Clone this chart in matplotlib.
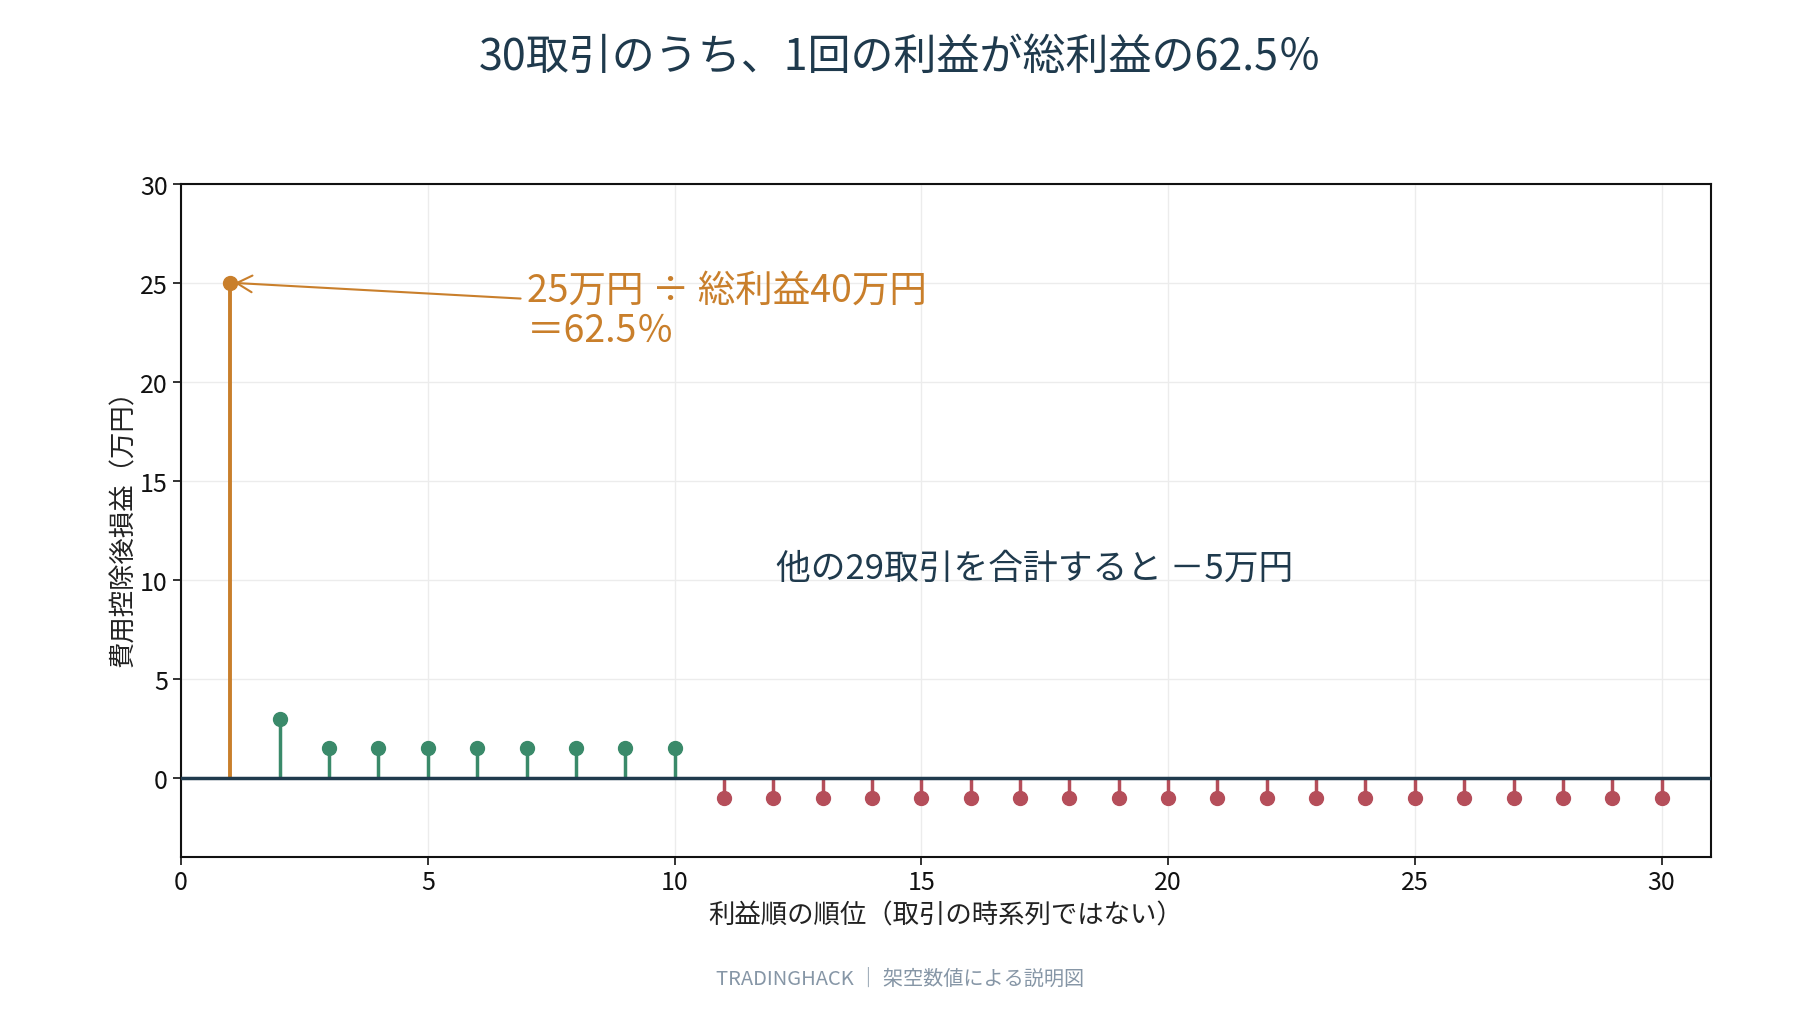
import matplotlib
matplotlib.use("Agg")
import matplotlib.pyplot as plt
import numpy as np

plt.rcParams['font.family'] = ['Noto Sans CJK JP', 'DejaVu Sans']

# ---- data ----
ranks = list(range(1, 31))
pnl = [25, 3] + [1.5] * 8 + [-1] * 20
xticks = [0, 5, 10, 15, 20, 25, 30]
yticks = [0, 5, 10, 15, 20, 25, 30]

title = "30取引のうち、1回の利益が総利益の62.5％"
ylabel = "費用控除後損益（万円）"
xlabel = "利益順の順位（取引の時系列ではない）"
annot_text = "25万円 ÷ 総利益40万円\n＝62.5％"
mid_text = "他の29取引を合計すると －5万円"
footer = "TRADINGHACK ｜ 架空数値による説明図"

ORANGE = "#C97F2B"
GREEN = "#3A8A6A"
RED = "#B54E5A"
NAVY = "#1F3A4D"

fig = plt.figure(figsize=(18, 10.2), dpi=100)
ax = fig.add_axes([0.1006, 0.1584, 0.8499, 0.6606])

r = np.array(ranks)
v = np.array(pnl)
pos = (v > 0) & (r > 1)
neg = v < 0

ax.vlines(r[:1], 0, v[:1], color=ORANGE, lw=2.8, zorder=3)
ax.plot(r[:1], v[:1], 'o', color=ORANGE, ms=10, zorder=4)
ax.vlines(r[pos], 0, v[pos], color=GREEN, lw=2.5, zorder=3)
ax.plot(r[pos], v[pos], 'o', color=GREEN, ms=10, zorder=4)
ax.vlines(r[neg], 0, v[neg], color=RED, lw=2.5, zorder=3)
ax.plot(r[neg], v[neg], 'o', color=RED, ms=10, zorder=4)

ax.axhline(0, color=NAVY, lw=2.5, zorder=5)

ax.set_xlim(0, 31)
ax.set_ylim(-4, 30)
ax.set_xticks(xticks)
ax.set_yticks(yticks)
ax.grid(True, color="#ECECEC", lw=1, zorder=0)
ax.set_axisbelow(True)
for s in ax.spines.values():
    s.set_color("#111111")
    s.set_linewidth(1.5)
ax.tick_params(axis='both', labelsize=18, colors="#111111", length=6, width=1.2)
ax.tick_params(axis='x', pad=2)

ax.set_xlabel(xlabel, fontsize=19, color="#222222", labelpad=5)
ax.set_ylabel(ylabel, fontsize=19, color="#222222", labelpad=2)

ax.text(7.0, 23.6, annot_text, fontsize=27, color=ORANGE, ha='left', va='center',
        linespacing=1.05)
ax.annotate("", xy=(r[0], v[0]), xytext=(6.88, 24.2),
            arrowprops=dict(arrowstyle="->,head_length=0.55,head_width=0.3",
                            color=ORANGE, lw=1.5, shrinkA=0, shrinkB=3,
                            mutation_scale=20))

ax.text(12.05, 10.6, mid_text, fontsize=25, color=NAVY, ha='left', va='center')

fig.text(0.5, 0.943, title, fontsize=31, color=NAVY, ha='center', va='center')
fig.text(0.5, 0.040, footer, fontsize=14.5, color="#8696A6", ha='center', va='center')

fig.savefig("out.png", dpi=100)
